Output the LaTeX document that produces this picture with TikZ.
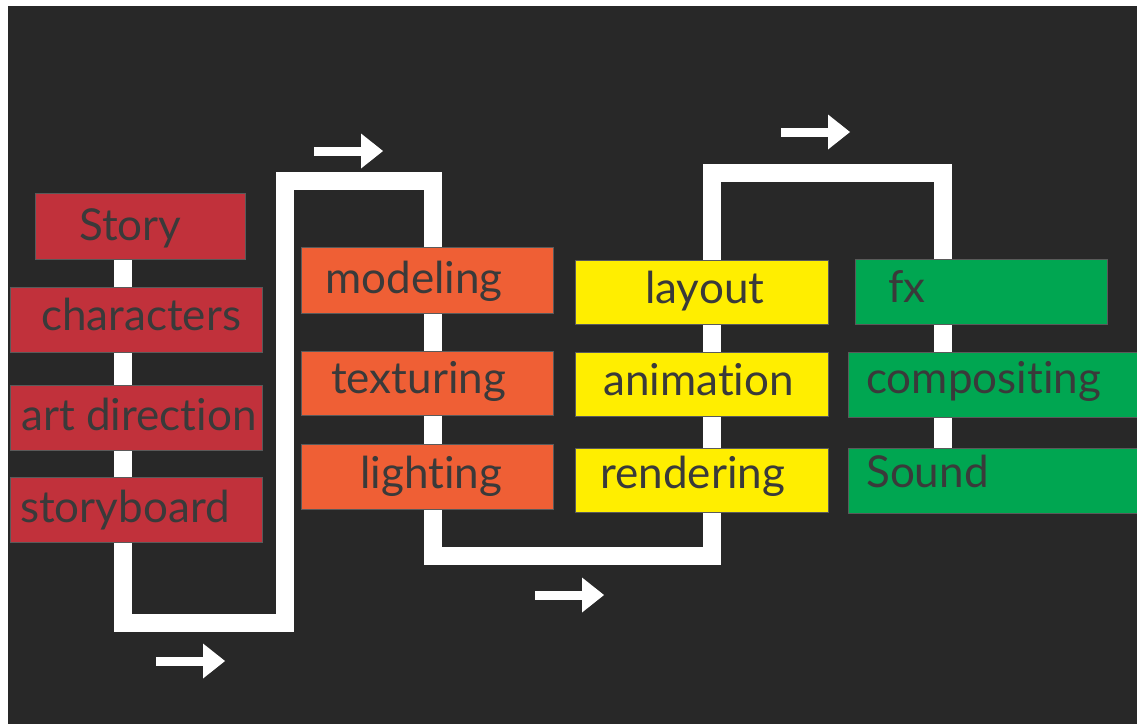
\documentclass[tikz,border=0pt]{standalone}
\usepackage{fontspec}
\setmainfont{Lato}[Ligatures={NoCommon,NoRare,NoContextual}]
\definecolor{bg}{HTML}{282828}
\definecolor{redbox}{HTML}{C1313B}
\definecolor{orangebox}{HTML}{EF5F35}
\definecolor{yellowbox}{HTML}{FFEE00}
\definecolor{greenbox}{HTML}{00A651}
\definecolor{ink}{HTML}{3A3A3A}
\definecolor{edge}{HTML}{5A5A5A}
\tikzset{
  stagebox/.style={rectangle, inner sep=0pt, draw=edge, line width=0.8pt},
  stagelabel/.style={anchor=base west, inner sep=0pt, text=ink,
    font=\fontsize{44}{48}\selectfont},
  flowline/.style={draw=white, line width=18pt, line join=miter, line cap=butt},
  flowarrow/.pic={
    \fill[white] (-47,-4.5) rectangle (0,4.5);
    \fill[white] (0,-17.5) -- (22,0) -- (0,17.5) -- cycle;
  }
}
\begin{document}
\begin{tikzpicture}[x=1pt,y=-1pt]
\useasboundingbox (0,0) rectangle (1137,724);
\fill[white] (0,0) rectangle (1137,724);
\fill[bg] (8,6) rectangle (1137,724);

% corners of the production path
\coordinate (p0) at (123,226);
\coordinate (p1) at (123,623);
\coordinate (p2) at (285,623);
\coordinate (p3) at (285,181);
\coordinate (p4) at (433,181);
\coordinate (p5) at (433,556);
\coordinate (p6) at (712,556);
\coordinate (p7) at (712,173);
\coordinate (p8) at (943,173);
\coordinate (p9) at (943,480);
\draw[flowline] (p0) -- (p1) -- (p2) -- (p3) -- (p4) -- (p5) -- (p6) -- (p7) -- (p8) -- (p9);

% pre-production
\node[stagebox, fill=redbox, minimum width=210pt, minimum height=66pt] (story) at (140,226) {};
\node[stagebox, fill=redbox, minimum width=252pt, minimum height=65pt] (characters) at (136,319.5) {};
\node[stagebox, fill=redbox, minimum width=252pt, minimum height=65pt] (artdir) at (136,417.5) {};
\node[stagebox, fill=redbox, minimum width=252pt, minimum height=65pt] (storyboard) at (136,509.5) {};
% assets
\node[stagebox, fill=orangebox, minimum width=252pt, minimum height=66pt] (modeling) at (427,280) {};
\node[stagebox, fill=orangebox, minimum width=252pt, minimum height=64pt] (texturing) at (427,383) {};
\node[stagebox, fill=orangebox, minimum width=252pt, minimum height=65pt] (lighting) at (427,476.5) {};
% shots
\node[stagebox, fill=yellowbox, minimum width=253pt, minimum height=64pt] (layout) at (701.5,292) {};
\node[stagebox, fill=yellowbox, minimum width=253pt, minimum height=64pt] (animation) at (701.5,384) {};
\node[stagebox, fill=yellowbox, minimum width=253pt, minimum height=64pt] (rendering) at (701.5,480) {};
% finishing
\node[stagebox, fill=greenbox, minimum width=252pt, minimum height=65pt] (fx) at (981,291.5) {};
\node[stagebox, fill=greenbox, minimum width=291pt, minimum height=65pt] (compositing) at (993.5,384.5) {};
\node[stagebox, fill=greenbox, minimum width=291pt, minimum height=65pt] (sound) at (993.5,480.5) {};

% labels
\node[stagelabel] (storyT) at (79,240) {Story};
\node[stagelabel] (charactersT) at (41,330) {characters};
\node[stagelabel] (artdirT) at (21,430) {art direction};
\node[stagelabel] (storyboardT) at (20,522) {storyboard};
\node[stagelabel] (modelingT) at (325,293) {modeling};
\node[stagelabel] (texturingT) at (331,393) {texturing};
\node[stagelabel] (lightingT) at (360,488) {lighting};
\node[stagelabel] (layoutT) at (645,303) {layout};
\node[stagelabel] (animationT) at (603,395) {animation};
\node[stagelabel] (renderingT) at (600,488) {rendering};
\node[stagelabel] (fxT) at (888,302) {fx};
\node[stagelabel] (compositingT) at (866,393) {compositing};
\node[stagelabel] (soundT) at (866,487) {Sound};

% direction arrows
\pic at (203,661) {flowarrow};
\pic at (361,151) {flowarrow};
\pic at (582,595) {flowarrow};
\pic at (828,132) {flowarrow};
\end{tikzpicture}
\end{document}
